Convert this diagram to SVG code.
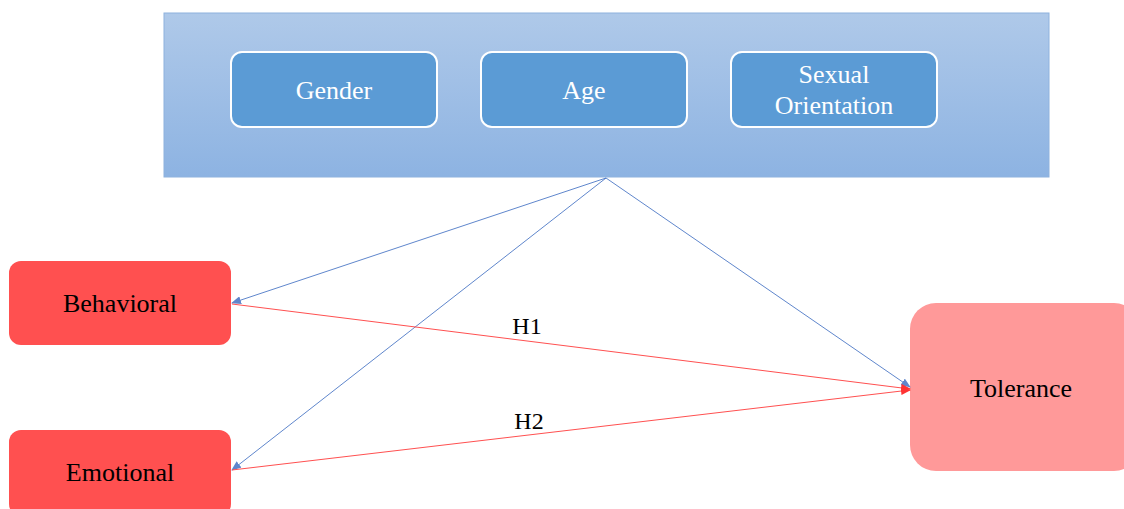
<svg xmlns="http://www.w3.org/2000/svg" width="1124" height="509" viewBox="0 0 1124 509">
<style>
.t{font-family:'Liberation Serif','Times New Roman',serif;text-anchor:middle;dominant-baseline:central}
.demo rect{fill:#5b9bd5;stroke:#ffffff;stroke-width:2}
.demo text{fill:#ffffff;font-size:26px}
.red rect{fill:#ff5050}
.blk{fill:#000000;font-size:26px}
.blue{stroke:#4472c4;stroke-width:1;fill:none;opacity:0.85}
.redl{stroke:#ff5050;stroke-width:1;fill:none}
</style>
<defs>
<linearGradient id="g" x1="0" y1="0" x2="0" y2="1">
<stop offset="0" stop-color="#afc9e9"/>
<stop offset="1" stop-color="#8db3e2"/>
</linearGradient>
<marker id="ab" markerWidth="10" markerHeight="8" refX="9" refY="4" orient="auto" markerUnits="userSpaceOnUse"><path d="M0,0 L10,4 L0,8 z" fill="#4472c4"/></marker>
<marker id="ar" markerWidth="10" markerHeight="8" refX="9" refY="4" orient="auto" markerUnits="userSpaceOnUse"><path d="M0,0 L10,4 L0,8 z" fill="#ff3333"/></marker>
</defs>
<g id="demographics">
<rect x="164" y="13" width="885" height="164" fill="url(#g)" stroke="#8eb2de" stroke-width="1"/>
</g>
<g id="gender" class="demo"><rect x="231" y="52" width="206" height="75" rx="11"/><text class="t" x="334" y="90">Gender</text></g>
<g id="age" class="demo"><rect x="481" y="52" width="206" height="75" rx="11"/><text class="t" x="584" y="90">Age</text></g>
<g id="sexual-orientation" class="demo"><rect x="731" y="52" width="206" height="75" rx="11"/><text class="t" x="834" y="74">Sexual</text><text class="t" x="834" y="105">Orientation</text></g>
<g id="behavioral" class="red"><rect x="9" y="261" width="222" height="84" rx="12"/><text class="t blk" x="120" y="303">Behavioral</text></g>
<g id="emotional" class="red"><rect x="9" y="430" width="222" height="86" rx="12"/><text class="t blk" x="120" y="472">Emotional</text></g>
<g id="tolerance"><rect x="910" y="303" width="230" height="168" rx="26" fill="#ff9999"/><text class="t blk" x="1021" y="388">Tolerance</text></g>
<g id="connectors">
<line class="blue" x1="606" y1="178" x2="232" y2="303" marker-end="url(#ab)"/>
<line class="blue" x1="606" y1="178" x2="232" y2="470" marker-end="url(#ab)"/>
<line class="blue" x1="606" y1="178" x2="910" y2="387" marker-end="url(#ab)"/>
<line class="redl" x1="232" y1="304" x2="910" y2="389" marker-end="url(#ar)"/>
<line class="redl" x1="232" y1="470" x2="910" y2="390" marker-end="url(#ar)"/>
<text class="t blk" x="527" y="326" style="font-size:24px">H1</text>
<text class="t blk" x="529" y="421" style="font-size:24px">H2</text>
</g>
</svg>
